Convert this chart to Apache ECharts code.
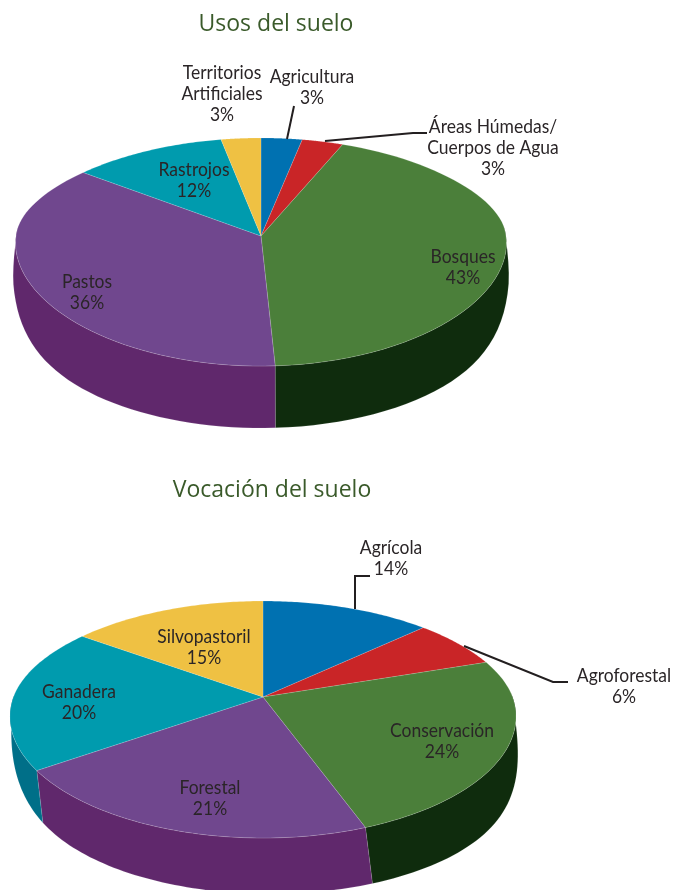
<!DOCTYPE html>
<html><head><meta charset="utf-8">
<style>html,body{margin:0;padding:0;background:#fff}#c{width:673px;height:890px}</style>
<script src="https://cdn.jsdelivr.net/npm/echarts@6/dist/echarts.min.js"></script>
</head><body><div id="c"></div>
<script>
// ---- data ----
const usosNames = ['Agricultura', 'Áreas Húmedas/\nCuerpos de Agua', 'Bosques', 'Pastos', 'Rastrojos', 'Territorios\nArtificiales'];
const usosLabels = ['3%', '3%', '43%', '36%', '12%', '3%'];
const usosValues = [3.1, 3.1, 43.0, 36.2, 11.6, 3.0];
const vocacionNames = ['Agrícola', 'Agroforestal', 'Conservación', 'Forestal', 'Ganadera', 'Silvopastoril'];
const vocacionLabels = ['14%', '6%', '24%', '21%', '20%', '15%'];
const vocacionValues = [13, 7, 24.5, 20.5, 20, 15];

// ---- styles ----
const topColors = ['#0071b1', '#c92527', '#4b7f3a', '#70478e', '#009bae', '#efc143'];
const sideColors = ['#00527f', '#8f1a1c', '#0f2c0d', '#60286c', '#006f88', '#b08a20'];

// ---- layout: projection of each disc and label placement ----
const usosGeom = {cx: 261, cy: 236, R: 243, S: 111.8, a: 0.1404, D: 62, dx: 0, grow: 1.012, egg: 9};
const vocGeom = {cx: 263, cy: 697, R: 248.4, S: 114.2, a: 0.19, D: 56, dx: 7, grow: 1.0, egg: 3};
const usosLabelPos = [[312, 77], [493, 127], [463, 257], [87, 282], [194, 170], [222, 73]];
const vocLabelPos = [[391, 548], [624, 676], [442, 731], [210, 788], [79, 692], [204, 637]];
const usosLeaders = [[[294, 106], [287, 139]], [[325, 141], [413, 133], [427, 133]]];
const vocLeaders = [[[370, 576], [355, 576], [355, 609]], [[464, 646], [553, 682], [568, 682]]];

const LINE_H = 21;
const FONT = '19px Lato, "Open Sans", sans-serif';
const TEXT_SCALE = 0.92;

function project(g, theta, lower) {
  const u = Math.sin(theta), v = Math.cos(theta), w = 1 + g.a * v;
  const offX = g.R * u / w;
  const y = g.cy - g.S * v / w - g.egg * u * u * (v < 0 ? 1 : (1 - v) * (1 - v));
  if (!lower) return [g.cx + offX, y];
  // the wall is zero high at the widest point and reaches full depth at the front
  const t = v < 0 ? 1 - Math.pow(1 + v, 3) : 0;
  const spread = 1 + (g.grow - 1) * Math.min(1, t * 2);
  return [g.cx + g.dx * t * t + offX * spread, y + g.D * t];
}
function arc(g, t0, t1, lower) {
  const n = 60, pts = [];
  for (let i = 0; i <= n; i++) pts.push(project(g, t0 + (t1 - t0) * i / n, lower));
  return pts;
}
function pieSeries(names, labels, values, g, labelPos, leaders) {
  const total = values.reduce((s, v) => s + v, 0);
  const starts = [];
  values.reduce((s, v, i) => (starts[i] = s, s + v), 0);
  return {
    type: 'custom',
    coordinateSystem: 'none',
    silent: true,
    data: values.map(v => [v]),
    renderItem: function (params, api) {
      const i = params.dataIndex;
      const t0 = starts[i] / total * 2 * Math.PI;
      const t1 = t0 + api.value(0) / total * 2 * Math.PI;
      const topArc = arc(g, t0, t1, false);
      const lowArc = arc(g, t0, t1, true);
      const children = [
        {type: 'polygon', z2: 10,
         shape: {points: topArc.concat(lowArc.slice().reverse())},
         style: {fill: sideColors[i], stroke: 'rgba(255,255,255,0.22)', lineWidth: 0.5}},
        {type: 'polygon', z2: 20,
         shape: {points: [[g.cx, g.cy]].concat(topArc)},
         style: {fill: topColors[i], stroke: 'rgba(255,255,255,0.3)', lineWidth: 0.5}}
      ];
      const lines = (names[i] + '\n' + labels[i]).split('\n');
      lines.forEach((t, k) => children.push({
        type: 'text', z2: 40, x: labelPos[i][0], y: labelPos[i][1] + k * LINE_H,
        scaleX: TEXT_SCALE,
        style: {text: t, font: FONT, fill: '#2a2527', align: 'center', verticalAlign: 'middle'}
      }));
      if (i === 0) leaders.forEach(p => children.push({
        type: 'polyline', z2: 30, shape: {points: p},
        style: {fill: 'none', stroke: '#231f20', lineWidth: 2}
      }));
      return {type: 'group', children};
    }
  };
}

const chart = echarts.init(document.getElementById('c'), null, {renderer: 'canvas'});
const titleStyle = {fontFamily: 'Open Sans', fontSize: 23, fontWeight: 'normal', color: '#3a5a2a'};
chart.setOption({
  animation: false,
  backgroundColor: '#fff',
  title: [
    {text: 'Usos del suelo', left: 271, top: 8, textAlign: 'center', textStyle: titleStyle},
    {text: 'Vocación del suelo', left: 267, top: 474, textAlign: 'center', textStyle: titleStyle}
  ],
  series: [
    pieSeries(usosNames, usosLabels, usosValues, usosGeom, usosLabelPos, usosLeaders),
    pieSeries(vocacionNames, vocacionLabels, vocacionValues, vocGeom, vocLabelPos, vocLeaders)
  ]
});
</script></body></html>
